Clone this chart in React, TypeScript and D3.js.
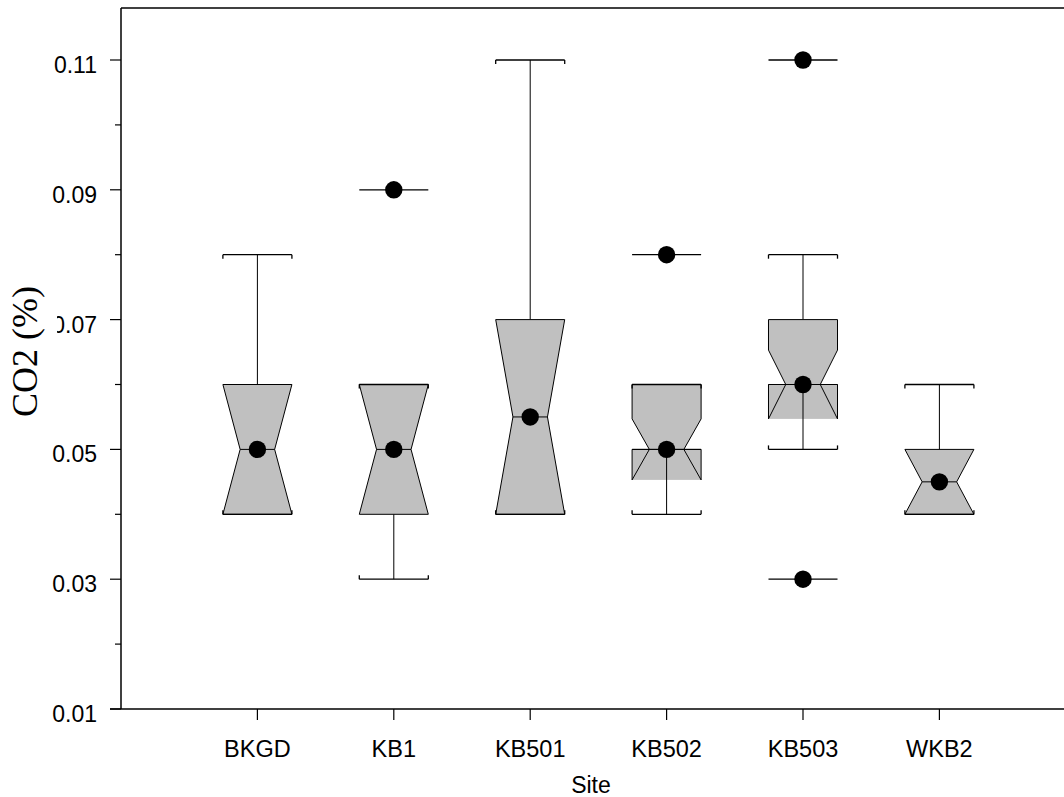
import React, { useEffect, useRef } from "react";
import * as d3 from "d3";

const sites = ["BKGD", "KB1", "KB501", "KB502", "KB503", "WKB2"];
const q1 = [0.04, 0.04, 0.04, 0.05, 0.06, 0.04];
const medians = [0.05, 0.05, 0.055, 0.05, 0.06, 0.045];
const q3 = [0.06, 0.06, 0.07, 0.06, 0.07, 0.05];
const notchLow = [0.04, 0.04, 0.04, 0.0453, 0.0547, 0.04];
const notchHigh = [0.06, 0.06, 0.07, 0.0547, 0.0653, 0.05];
const whiskerLow = [0.04, 0.03, 0.04, 0.04, 0.05, 0.04];
const whiskerHigh = [0.08, 0.06, 0.11, 0.06, 0.08, 0.06];
const outliers: number[][] = [[], [0.09], [], [0.08], [0.11, 0.03], []];
const majorTicks = [0.01, 0.03, 0.05, 0.07, 0.09, 0.11];
const minorTicks = [0.02, 0.04, 0.06, 0.08, 0.1];

const W = 1064;
const H = 797;
const left = 121;
const top = 8;
const bottom = 709;

export default function App() {
  const ref = useRef<SVGSVGElement>(null);

  useEffect(() => {
    const svg = d3.select(ref.current);
    svg.selectAll("*").remove();

    const x = d3.scaleLinear().domain([0, 7]).range([left, left + 7 * 136.4]);
    const y = d3.scaleLinear().domain([0.01, 0.11]).range([bottom, 60]);
    const gray = "#c0c0c0";
    const font = "Liberation Sans, Arial, sans-serif";

    const g = svg.append("g");

    sites.forEach((s, i) => {
      const cx = x(i + 1);
      const w = x(i + 1.253) - cx;
      const wn = w / 2;
      const med = medians[i];
      const nHi = Math.min(notchHigh[i], q3[i]);
      const nLo = Math.max(notchLow[i], q1[i]);

      const seg = (x1: number, y1: number, x2: number, y2: number, sw = 1) =>
        g.append("line").attr("x1", x1).attr("y1", y1).attr("x2", x2).attr("y2", y2)
          .attr("stroke", "#000").attr("stroke-width", sw);

      if (whiskerHigh[i] > q3[i]) {
        seg(cx, y(q3[i]), cx, y(whiskerHigh[i]));
      }

      const pts: [number, number][] = [
        [cx - w, y(q3[i])],
        [cx + w, y(q3[i])],
        [cx + w, y(nHi)],
        [cx + wn, y(med)],
        [cx + w, y(nLo)],
        [cx + w, y(q1[i])],
        [cx - w, y(q1[i])],
        [cx - w, y(nLo)],
        [cx - wn, y(med)],
        [cx - w, y(nHi)],
      ];
      if (notchLow[i] < q1[i]) {
        g.append("rect").attr("x", cx - w).attr("y", y(q1[i])).attr("width", 2 * w)
          .attr("height", y(notchLow[i]) - y(q1[i])).attr("fill", gray);
      }
      if (notchHigh[i] > q3[i]) {
        g.append("rect").attr("x", cx - w).attr("y", y(notchHigh[i])).attr("width", 2 * w)
          .attr("height", y(q3[i]) - y(notchHigh[i])).attr("fill", gray);
      }
      g.append("path").attr("d", d3.line()(pts) + "Z").attr("fill", gray)
        .attr("stroke", "#000").attr("stroke-width", 1).attr("stroke-linejoin", "miter");

      if (notchLow[i] < q1[i]) {
        const yl = y(notchLow[i]);
        seg(cx - w, y(q1[i]), cx - w, yl);
        seg(cx + w, y(q1[i]), cx + w, yl);
        seg(cx - wn, y(med), cx - w, yl);
        seg(cx + wn, y(med), cx + w, yl);
      }
      if (notchHigh[i] > q3[i]) {
        const yh = y(notchHigh[i]);
        seg(cx - w, y(q3[i]), cx - w, yh);
        seg(cx + w, y(q3[i]), cx + w, yh);
        seg(cx - wn, y(med), cx - w, yh);
        seg(cx + wn, y(med), cx + w, yh);
      }

      seg(cx - wn, y(med), cx + wn, y(med));

      if (whiskerLow[i] < q1[i]) {
        seg(cx, y(q1[i]), cx, y(whiskerLow[i]));
      }

      const cap = (v: number, dir: number) => {
        const yy = y(v);
        seg(cx - w, yy, cx + w, yy, 1.3);
        seg(cx - w, yy, cx - w, yy + dir * 4, 1.3);
        seg(cx + w, yy, cx + w, yy + dir * 4, 1.3);
      };
      cap(whiskerHigh[i], 1);
      cap(whiskerLow[i], -1);

      outliers[i].forEach((v) => {
        seg(cx - w, y(v), cx + w, y(v), 1.3);
        g.append("circle").attr("cx", cx).attr("cy", y(v)).attr("r", 8.7).attr("fill", "#000");
      });

      g.append("circle").attr("cx", cx).attr("cy", y(med)).attr("r", 8.7).attr("fill", "#000");
    });

    const frame = svg.append("g").attr("stroke", "#000").attr("stroke-width", 1.5).attr("fill", "none");
    frame.append("line").attr("x1", left).attr("x2", left).attr("y1", top).attr("y2", bottom);
    frame.append("line").attr("x1", left).attr("x2", W + 10).attr("y1", top).attr("y2", top);
    frame.append("line").attr("x1", left - 11).attr("x2", W + 10).attr("y1", bottom).attr("y2", bottom);

    majorTicks.forEach((t) => {
      svg.append("line").attr("x1", left - 11).attr("x2", left).attr("y1", y(t)).attr("y2", y(t))
        .attr("stroke", "#000").attr("stroke-width", 1.2);
      svg.append("text").attr("x", 97).attr("y", y(t) + 13).attr("text-anchor", "end")
        .attr("font-family", font).attr("font-size", 23).attr("fill", "#000").text(t.toFixed(2));
    });
    minorTicks.forEach((t) => {
      svg.append("line").attr("x1", left - 6).attr("x2", left).attr("y1", y(t)).attr("y2", y(t))
        .attr("stroke", "#000").attr("stroke-width", 1.2);
    });

    sites.forEach((s, i) => {
      const cx = x(i + 1);
      svg.append("line").attr("x1", cx).attr("x2", cx).attr("y1", bottom).attr("y2", bottom + 11)
        .attr("stroke", "#000").attr("stroke-width", 1.2);
      svg.append("text").attr("x", cx).attr("y", 757).attr("text-anchor", "middle")
        .attr("font-family", font).attr("font-size", 23.5).attr("fill", "#000").text(s);
    });

    svg.append("text").attr("x", 591).attr("y", 793).attr("text-anchor", "middle")
      .attr("font-family", font).attr("font-size", 23).attr("fill", "#000").text("Site");

    svg.append("rect").attr("x", 8).attr("y", 278).attr("width", 49).attr("height", 147).attr("fill", "#fff");
    svg.append("text").attr("transform", "translate(37,351.5) rotate(-90)").attr("text-anchor", "middle")
      .attr("font-family", "Liberation Serif, Times New Roman, serif").attr("font-size", 36)
      .attr("fill", "#000").text("CO2 (%)");
  }, []);

  return (
    <svg
      ref={ref}
      width={W}
      height={H}
      style={{ position: "absolute", left: 0, top: 0, background: "#fff", overflow: "hidden" }}
    />
  );
}
